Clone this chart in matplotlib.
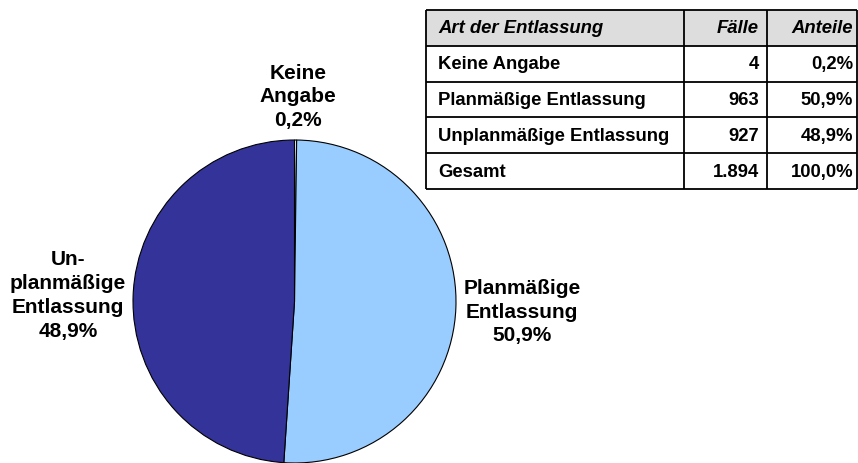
import matplotlib
matplotlib.use("Agg")
import matplotlib.pyplot as plt
from matplotlib.patches import Rectangle

plt.rcParams['font.family'] = ['Liberation Sans', 'DejaVu Sans']

categories = ["Keine Angabe", "Planmäßige Entlassung", "Unplanmäßige Entlassung"]
cases = [4, 963, 927]
shares = ["0,2%", "50,9%", "48,9%"]
total_label = ["Gesamt", "1.894", "100,0%"]
header = ["Art der Entlassung", "Fälle", "Anteile"]
pie_labels = ["Keine\nAngabe\n0,2%", "Planmäßige\nEntlassung\n50,9%", "Un-\nplanmäßige\nEntlassung\n48,9%"]
colors = ["#E8FFFF", "#99CCFF", "#333399"]

W, H = 858, 464
fig = plt.figure(figsize=(W / 100, H / 100), dpi=100)

def fx(px):
    return px / W

def fy(py):
    return 1 - py / H

# Pie axes
cx, cy, r = 294.5, 302.5, 161.5
ax = fig.add_axes([fx(cx - r), fy(cy + r), 2 * r / W, 2 * r / H])
ax.pie(cases, colors=colors, startangle=90, counterclock=False,
       wedgeprops=dict(edgecolor="black", linewidth=0.8))
ax.set_xlim(-1, 1)
ax.set_ylim(-1, 1)
ax.set_aspect('auto')
ax.axis('off')

lab_pos = [(298, 97), (522, 312), (68, 295.5)]
for txt, (px, py) in zip(pie_labels, lab_pos):
    fig.text(fx(px), fy(py), txt, ha='center', va='center', fontsize=15,
             fontweight='bold', linespacing=1.32)

# Table axes
tl, tr, tt, tb = 426, 857, 11, 190
tax = fig.add_axes([fx(tl), fy(tb), (tr - tl) / W, (tb - tt) / H])
tax.set_xlim(tl, tr)
tax.set_ylim(tb, tt)
tax.axis('off')

rows = [header] + [[c, str(n), s] for c, n, s in zip(categories, cases, shares)] + [total_label]
nrows = len(rows)
rh = (tb - tt) / nrows
col_lines = [tl, 684, 767, tr]

tax.add_patch(Rectangle((tl, tt), tr - tl, rh, facecolor="#DDDDDD", edgecolor="none"))
for i in range(nrows + 1):
    y = tt + i * rh
    tax.plot([tl, tr], [y, y], color="black", lw=1.3, solid_capstyle='butt', clip_on=False)
for x in col_lines:
    tax.plot([x, x], [tt, tb], color="black", lw=1.3, solid_capstyle='butt', clip_on=False)

for i, row in enumerate(rows):
    yc = tt + (i + 0.5) * rh
    style = 'italic' if i == 0 else 'normal'
    tax.text(col_lines[0] + 12, yc, row[0], ha='left', va='center', fontsize=13.3,
             fontweight='bold', fontstyle=style)
    tax.text(col_lines[2] - 8, yc, row[1], ha='right', va='center', fontsize=13.3,
             fontweight='bold', fontstyle=style)
    tax.text(col_lines[3] - 4, yc, row[2], ha='right', va='center', fontsize=13.3,
             fontweight='bold', fontstyle=style)

fig.savefig("out.png", dpi=100)
